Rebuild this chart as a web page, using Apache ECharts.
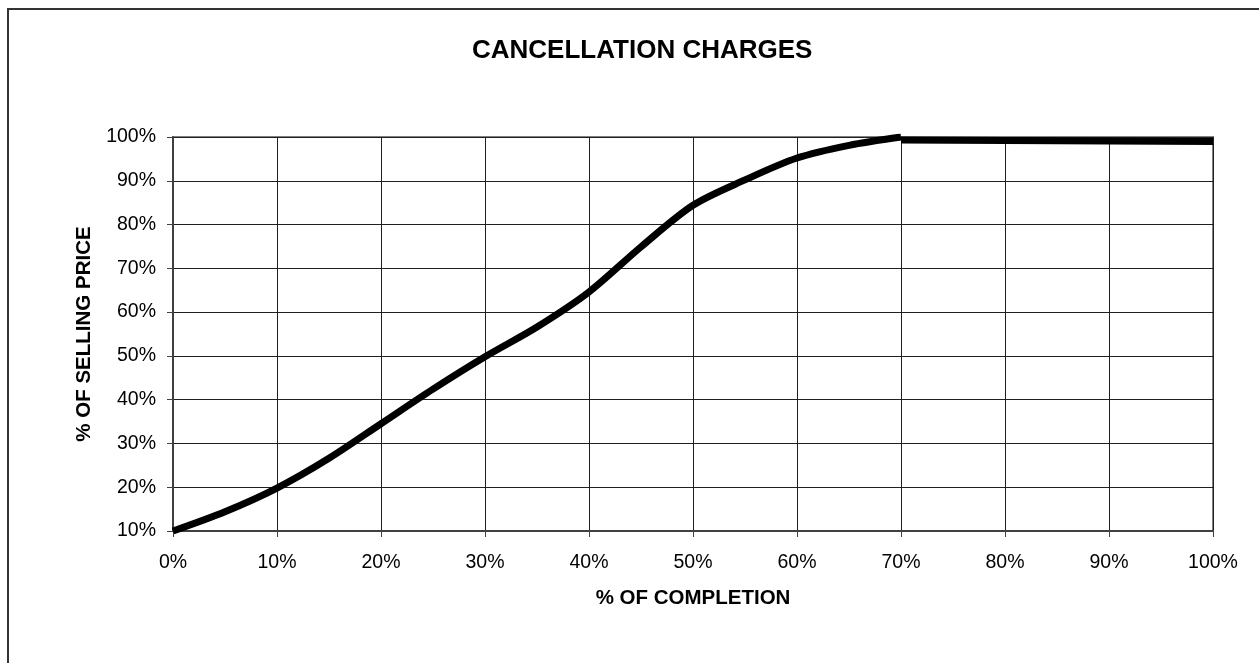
<!DOCTYPE html>
<html>
<head>
<meta charset="utf-8">
<title>Cancellation Charges</title>
<script src="https://cdn.jsdelivr.net/npm/echarts@6/dist/echarts.min.js"></script>
<style>
  html, body { margin: 0; padding: 0; background: #fff; }
  #chart { width: 1259px; height: 663px; }
</style>
</head>
<body>
<div id="chart"></div>
<script>
// % of completion (x) and % of selling price (y)
const completion = [0, 5, 10, 15, 20, 25, 30, 35, 40, 45, 50, 55, 60, 65, 70];
const chargeCurve = [10, 14.4, 19.8, 26.6, 34.5, 42.4, 49.8, 56.6, 64.6, 74.9, 84.4, 90.2, 95.2, 98.1, 100];
const flatCompletion = [70, 100];
const flatCharge = [99.3, 99.0];

const font = "Liberation Sans, Arial, sans-serif";
const chart = echarts.init(document.getElementById("chart"), null, { renderer: "canvas" });

chart.setOption({
  animation: false,
  backgroundColor: "#fff",
  title: {
    text: "CANCELLATION CHARGES",
    left: 467,
    top: 33,
    textStyle: { fontFamily: font, fontSize: 26, fontWeight: "bold", color: "#000" },
  },
  grid: {
    left: 173,
    right: 46,
    top: 137,
    bottom: 132,
    show: true,
    borderColor: "#808080",
    borderWidth: 2,
  },
  xAxis: {
    type: "value",
    min: 0,
    max: 100,
    interval: 10,
    name: "% OF COMPLETION",
    nameLocation: "middle",
    nameGap: 57,
    nameTextStyle: { fontFamily: font, fontSize: 20.5, fontWeight: "bold", color: "#000" },
    axisLine: { lineStyle: { color: "#404040", width: 2 } },
    axisTick: { show: true, length: 6, lineStyle: { color: "#404040", width: 1 } },
    axisLabel: { formatter: "{value}%", fontFamily: font, fontSize: 19.5, color: "#000", margin: 22 },
    splitLine: { show: true, lineStyle: { color: "#202020", width: 1 } },
  },
  yAxis: {
    type: "value",
    min: 10,
    max: 100,
    interval: 10,
    name: "% OF SELLING PRICE",
    nameLocation: "middle",
    nameGap: 58,
    nameTextStyle: { fontFamily: font, fontSize: 20.5, fontWeight: "bold", color: "#000" },
    axisLine: { show: true, lineStyle: { color: "#404040", width: 2 } },
    axisTick: { show: true, length: 6, lineStyle: { color: "#404040", width: 1 } },
    axisLabel: { formatter: "{value}%", fontFamily: font, fontSize: 19.5, color: "#000", margin: 17 },
    splitLine: { show: true, lineStyle: { color: "#202020", width: 1 } },
  },
  graphic: [
    {
      type: "rect",
      shape: { x: 8, y: 9, width: 1400, height: 800 },
      style: { fill: null, stroke: "#333", lineWidth: 2 },
      silent: true,
      z: -10,
    },
  ],
  series: [
    {
      type: "line",
      smooth: 0.3,
      showSymbol: false,
      data: completion.map((c, i) => [c, chargeCurve[i]]),
      lineStyle: { color: "#000", width: 7 },
    },
    {
      type: "line",
      showSymbol: false,
      data: flatCompletion.map((c, i) => [c, flatCharge[i]]),
      lineStyle: { color: "#000", width: 7 },
    },
  ],
});
</script>
</body>
</html>
